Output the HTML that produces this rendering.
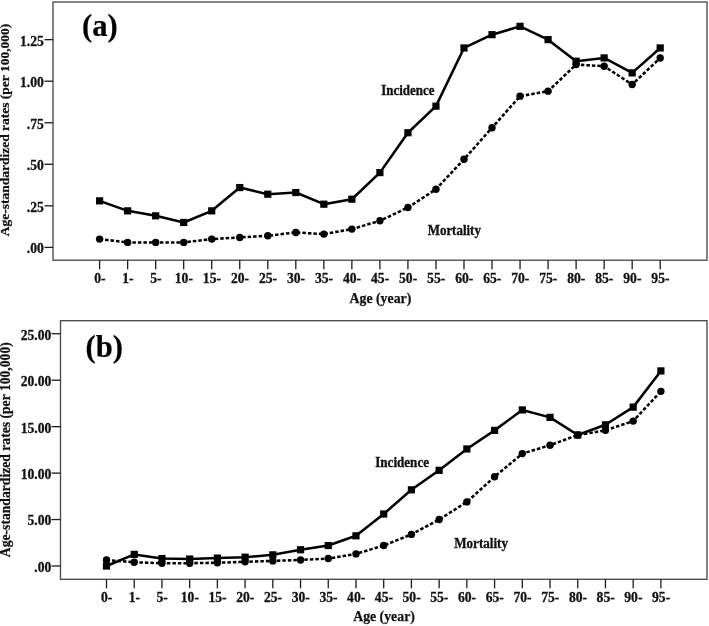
<!DOCTYPE html>
<html><head><meta charset="utf-8"><title>Figure</title>
<style>
html,body{margin:0;padding:0;background:#fff;}
svg{display:block;will-change:transform;}
text{font-family:"Liberation Serif",serif;font-weight:bold;fill:#111;}
.tk{font-size:13.6px;stroke:#111;stroke-width:0.3px;}
.lb{font-size:14.8px;stroke:#111;stroke-width:0.35px;}
.ax{font-size:13.8px;stroke:#111;stroke-width:0.25px;}
.tag{font-size:30.6px;fill:#000;stroke:#000;stroke-width:0.2px;}
</style></head><body>
<svg width="709" height="626" viewBox="0 0 709 626">
<rect width="709" height="626" fill="#fff"/>
<rect x="53.0" y="2.0" width="654.00" height="258.20" fill="none" stroke="#444" stroke-width="1.3"/>
<line x1="44.50" y1="247.40" x2="53.0" y2="247.40" stroke="#1a1a1a" stroke-width="1.3"/>
<text x="43.80" y="253.30" text-anchor="end" class="tk">.00</text>
<line x1="44.50" y1="205.85" x2="53.0" y2="205.85" stroke="#1a1a1a" stroke-width="1.3"/>
<text x="43.80" y="211.75" text-anchor="end" class="tk">.25</text>
<line x1="44.50" y1="164.30" x2="53.0" y2="164.30" stroke="#1a1a1a" stroke-width="1.3"/>
<text x="43.80" y="170.20" text-anchor="end" class="tk">.50</text>
<line x1="44.50" y1="122.75" x2="53.0" y2="122.75" stroke="#1a1a1a" stroke-width="1.3"/>
<text x="43.80" y="128.65" text-anchor="end" class="tk">.75</text>
<line x1="44.50" y1="81.20" x2="53.0" y2="81.20" stroke="#1a1a1a" stroke-width="1.3"/>
<text x="43.80" y="87.10" text-anchor="end" class="tk">1.00</text>
<line x1="44.50" y1="39.65" x2="53.0" y2="39.65" stroke="#1a1a1a" stroke-width="1.3"/>
<text x="43.80" y="45.55" text-anchor="end" class="tk">1.25</text>
<line x1="99.60" y1="260.2" x2="99.60" y2="269.20" stroke="#1a1a1a" stroke-width="1.3"/>
<text x="99.80" y="283.3" text-anchor="middle" class="tk">0-</text>
<line x1="127.63" y1="260.2" x2="127.63" y2="269.20" stroke="#1a1a1a" stroke-width="1.3"/>
<text x="127.83" y="283.3" text-anchor="middle" class="tk">1-</text>
<line x1="155.66" y1="260.2" x2="155.66" y2="269.20" stroke="#1a1a1a" stroke-width="1.3"/>
<text x="155.86" y="283.3" text-anchor="middle" class="tk">5-</text>
<line x1="183.69" y1="260.2" x2="183.69" y2="269.20" stroke="#1a1a1a" stroke-width="1.3"/>
<text x="183.89" y="283.3" text-anchor="middle" class="tk">10-</text>
<line x1="211.72" y1="260.2" x2="211.72" y2="269.20" stroke="#1a1a1a" stroke-width="1.3"/>
<text x="211.92" y="283.3" text-anchor="middle" class="tk">15-</text>
<line x1="239.75" y1="260.2" x2="239.75" y2="269.20" stroke="#1a1a1a" stroke-width="1.3"/>
<text x="239.95" y="283.3" text-anchor="middle" class="tk">20-</text>
<line x1="267.78" y1="260.2" x2="267.78" y2="269.20" stroke="#1a1a1a" stroke-width="1.3"/>
<text x="267.98" y="283.3" text-anchor="middle" class="tk">25-</text>
<line x1="295.81" y1="260.2" x2="295.81" y2="269.20" stroke="#1a1a1a" stroke-width="1.3"/>
<text x="296.01" y="283.3" text-anchor="middle" class="tk">30-</text>
<line x1="323.84" y1="260.2" x2="323.84" y2="269.20" stroke="#1a1a1a" stroke-width="1.3"/>
<text x="324.04" y="283.3" text-anchor="middle" class="tk">35-</text>
<line x1="351.87" y1="260.2" x2="351.87" y2="269.20" stroke="#1a1a1a" stroke-width="1.3"/>
<text x="352.07" y="283.3" text-anchor="middle" class="tk">40-</text>
<line x1="379.90" y1="260.2" x2="379.90" y2="269.20" stroke="#1a1a1a" stroke-width="1.3"/>
<text x="380.10" y="283.3" text-anchor="middle" class="tk">45-</text>
<line x1="407.93" y1="260.2" x2="407.93" y2="269.20" stroke="#1a1a1a" stroke-width="1.3"/>
<text x="408.13" y="283.3" text-anchor="middle" class="tk">50-</text>
<line x1="435.96" y1="260.2" x2="435.96" y2="269.20" stroke="#1a1a1a" stroke-width="1.3"/>
<text x="436.16" y="283.3" text-anchor="middle" class="tk">55-</text>
<line x1="463.99" y1="260.2" x2="463.99" y2="269.20" stroke="#1a1a1a" stroke-width="1.3"/>
<text x="464.19" y="283.3" text-anchor="middle" class="tk">60-</text>
<line x1="492.02" y1="260.2" x2="492.02" y2="269.20" stroke="#1a1a1a" stroke-width="1.3"/>
<text x="492.22" y="283.3" text-anchor="middle" class="tk">65-</text>
<line x1="520.05" y1="260.2" x2="520.05" y2="269.20" stroke="#1a1a1a" stroke-width="1.3"/>
<text x="520.25" y="283.3" text-anchor="middle" class="tk">70-</text>
<line x1="548.08" y1="260.2" x2="548.08" y2="269.20" stroke="#1a1a1a" stroke-width="1.3"/>
<text x="548.28" y="283.3" text-anchor="middle" class="tk">75-</text>
<line x1="576.11" y1="260.2" x2="576.11" y2="269.20" stroke="#1a1a1a" stroke-width="1.3"/>
<text x="576.31" y="283.3" text-anchor="middle" class="tk">80-</text>
<line x1="604.14" y1="260.2" x2="604.14" y2="269.20" stroke="#1a1a1a" stroke-width="1.3"/>
<text x="604.34" y="283.3" text-anchor="middle" class="tk">85-</text>
<line x1="632.17" y1="260.2" x2="632.17" y2="269.20" stroke="#1a1a1a" stroke-width="1.3"/>
<text x="632.37" y="283.3" text-anchor="middle" class="tk">90-</text>
<line x1="660.20" y1="260.2" x2="660.20" y2="269.20" stroke="#1a1a1a" stroke-width="1.3"/>
<text x="660.40" y="283.3" text-anchor="middle" class="tk">95-</text>
<polyline points="99.60,239.09 127.63,242.41 155.66,242.41 183.69,242.41 211.72,239.09 239.75,237.43 267.78,235.77 295.81,232.44 323.84,234.10 351.87,229.12 379.90,220.81 407.93,207.51 435.96,189.23 463.99,159.31 492.02,127.74 520.05,96.16 548.08,91.17 576.11,64.58 604.14,66.24 632.17,84.52 660.20,57.93" fill="none" stroke="#000" stroke-width="2.55" stroke-dasharray="3.5 2.0"/>
<polyline points="99.60,200.86 127.63,210.84 155.66,215.82 183.69,222.47 211.72,210.84 239.75,187.57 267.78,194.22 295.81,192.55 323.84,204.19 351.87,199.20 379.90,172.61 407.93,132.72 435.96,106.13 463.99,47.96 492.02,34.66 520.05,26.35 548.08,39.65 576.11,61.26 604.14,57.93 632.17,72.89 660.20,47.96" fill="none" stroke="#000" stroke-width="2.55" stroke-linejoin="round"/>
<circle cx="99.60" cy="239.09" r="3.7" fill="#000"/>
<circle cx="127.63" cy="242.41" r="3.7" fill="#000"/>
<circle cx="155.66" cy="242.41" r="3.7" fill="#000"/>
<circle cx="183.69" cy="242.41" r="3.7" fill="#000"/>
<circle cx="211.72" cy="239.09" r="3.7" fill="#000"/>
<circle cx="239.75" cy="237.43" r="3.7" fill="#000"/>
<circle cx="267.78" cy="235.77" r="3.7" fill="#000"/>
<circle cx="295.81" cy="232.44" r="3.7" fill="#000"/>
<circle cx="323.84" cy="234.10" r="3.7" fill="#000"/>
<circle cx="351.87" cy="229.12" r="3.7" fill="#000"/>
<circle cx="379.90" cy="220.81" r="3.7" fill="#000"/>
<circle cx="407.93" cy="207.51" r="3.7" fill="#000"/>
<circle cx="435.96" cy="189.23" r="3.7" fill="#000"/>
<circle cx="463.99" cy="159.31" r="3.7" fill="#000"/>
<circle cx="492.02" cy="127.74" r="3.7" fill="#000"/>
<circle cx="520.05" cy="96.16" r="3.7" fill="#000"/>
<circle cx="548.08" cy="91.17" r="3.7" fill="#000"/>
<circle cx="576.11" cy="64.58" r="3.7" fill="#000"/>
<circle cx="604.14" cy="66.24" r="3.7" fill="#000"/>
<circle cx="632.17" cy="84.52" r="3.7" fill="#000"/>
<circle cx="660.20" cy="57.93" r="3.7" fill="#000"/>
<rect x="96.00" y="197.26" width="7.2" height="7.2" fill="#000"/>
<rect x="124.03" y="207.24" width="7.2" height="7.2" fill="#000"/>
<rect x="152.06" y="212.22" width="7.2" height="7.2" fill="#000"/>
<rect x="180.09" y="218.87" width="7.2" height="7.2" fill="#000"/>
<rect x="208.12" y="207.24" width="7.2" height="7.2" fill="#000"/>
<rect x="236.15" y="183.97" width="7.2" height="7.2" fill="#000"/>
<rect x="264.18" y="190.62" width="7.2" height="7.2" fill="#000"/>
<rect x="292.21" y="188.95" width="7.2" height="7.2" fill="#000"/>
<rect x="320.24" y="200.59" width="7.2" height="7.2" fill="#000"/>
<rect x="348.27" y="195.60" width="7.2" height="7.2" fill="#000"/>
<rect x="376.30" y="169.01" width="7.2" height="7.2" fill="#000"/>
<rect x="404.33" y="129.12" width="7.2" height="7.2" fill="#000"/>
<rect x="432.36" y="102.53" width="7.2" height="7.2" fill="#000"/>
<rect x="460.39" y="44.36" width="7.2" height="7.2" fill="#000"/>
<rect x="488.42" y="31.06" width="7.2" height="7.2" fill="#000"/>
<rect x="516.45" y="22.75" width="7.2" height="7.2" fill="#000"/>
<rect x="544.48" y="36.05" width="7.2" height="7.2" fill="#000"/>
<rect x="572.51" y="57.66" width="7.2" height="7.2" fill="#000"/>
<rect x="600.54" y="54.33" width="7.2" height="7.2" fill="#000"/>
<rect x="628.57" y="69.29" width="7.2" height="7.2" fill="#000"/>
<rect x="656.60" y="44.36" width="7.2" height="7.2" fill="#000"/>
<text x="82.0" y="35.9" class="tag">(a)</text>
<text transform="translate(381.2,95.4) scale(0.875,1)" class="lb">Incidence</text>
<text transform="translate(427.7,234.7) scale(0.875,1)" class="lb">Mortality</text>
<text x="349.6" y="302.5" class="ax">Age (year)</text>
<text transform="translate(9.4,130) rotate(-90)" text-anchor="middle" class="ax" style="font-size:13.5px">Age-standardized rates (per 100,000)</text>
<rect x="60.5" y="320.7" width="646.50" height="258.60" fill="none" stroke="#444" stroke-width="1.3"/>
<line x1="51.50" y1="566.00" x2="60.5" y2="566.00" stroke="#1a1a1a" stroke-width="1.3"/>
<text x="51.30" y="571.90" text-anchor="end" class="tk">.00</text>
<line x1="51.50" y1="519.55" x2="60.5" y2="519.55" stroke="#1a1a1a" stroke-width="1.3"/>
<text x="51.30" y="525.45" text-anchor="end" class="tk">5.00</text>
<line x1="51.50" y1="473.10" x2="60.5" y2="473.10" stroke="#1a1a1a" stroke-width="1.3"/>
<text x="51.30" y="479.00" text-anchor="end" class="tk">10.00</text>
<line x1="51.50" y1="426.65" x2="60.5" y2="426.65" stroke="#1a1a1a" stroke-width="1.3"/>
<text x="51.30" y="432.55" text-anchor="end" class="tk">15.00</text>
<line x1="51.50" y1="380.20" x2="60.5" y2="380.20" stroke="#1a1a1a" stroke-width="1.3"/>
<text x="51.30" y="386.10" text-anchor="end" class="tk">20.00</text>
<line x1="51.50" y1="333.75" x2="60.5" y2="333.75" stroke="#1a1a1a" stroke-width="1.3"/>
<text x="51.30" y="339.65" text-anchor="end" class="tk">25.00</text>
<line x1="106.50" y1="579.3" x2="106.50" y2="588.30" stroke="#1a1a1a" stroke-width="1.3"/>
<text x="106.70" y="602.0" text-anchor="middle" class="tk">0-</text>
<line x1="134.22" y1="579.3" x2="134.22" y2="588.30" stroke="#1a1a1a" stroke-width="1.3"/>
<text x="134.42" y="602.0" text-anchor="middle" class="tk">1-</text>
<line x1="161.94" y1="579.3" x2="161.94" y2="588.30" stroke="#1a1a1a" stroke-width="1.3"/>
<text x="162.14" y="602.0" text-anchor="middle" class="tk">5-</text>
<line x1="189.66" y1="579.3" x2="189.66" y2="588.30" stroke="#1a1a1a" stroke-width="1.3"/>
<text x="189.86" y="602.0" text-anchor="middle" class="tk">10-</text>
<line x1="217.38" y1="579.3" x2="217.38" y2="588.30" stroke="#1a1a1a" stroke-width="1.3"/>
<text x="217.58" y="602.0" text-anchor="middle" class="tk">15-</text>
<line x1="245.10" y1="579.3" x2="245.10" y2="588.30" stroke="#1a1a1a" stroke-width="1.3"/>
<text x="245.30" y="602.0" text-anchor="middle" class="tk">20-</text>
<line x1="272.82" y1="579.3" x2="272.82" y2="588.30" stroke="#1a1a1a" stroke-width="1.3"/>
<text x="273.02" y="602.0" text-anchor="middle" class="tk">25-</text>
<line x1="300.54" y1="579.3" x2="300.54" y2="588.30" stroke="#1a1a1a" stroke-width="1.3"/>
<text x="300.74" y="602.0" text-anchor="middle" class="tk">30-</text>
<line x1="328.26" y1="579.3" x2="328.26" y2="588.30" stroke="#1a1a1a" stroke-width="1.3"/>
<text x="328.46" y="602.0" text-anchor="middle" class="tk">35-</text>
<line x1="355.98" y1="579.3" x2="355.98" y2="588.30" stroke="#1a1a1a" stroke-width="1.3"/>
<text x="356.18" y="602.0" text-anchor="middle" class="tk">40-</text>
<line x1="383.70" y1="579.3" x2="383.70" y2="588.30" stroke="#1a1a1a" stroke-width="1.3"/>
<text x="383.90" y="602.0" text-anchor="middle" class="tk">45-</text>
<line x1="411.42" y1="579.3" x2="411.42" y2="588.30" stroke="#1a1a1a" stroke-width="1.3"/>
<text x="411.62" y="602.0" text-anchor="middle" class="tk">50-</text>
<line x1="439.14" y1="579.3" x2="439.14" y2="588.30" stroke="#1a1a1a" stroke-width="1.3"/>
<text x="439.34" y="602.0" text-anchor="middle" class="tk">55-</text>
<line x1="466.86" y1="579.3" x2="466.86" y2="588.30" stroke="#1a1a1a" stroke-width="1.3"/>
<text x="467.06" y="602.0" text-anchor="middle" class="tk">60-</text>
<line x1="494.58" y1="579.3" x2="494.58" y2="588.30" stroke="#1a1a1a" stroke-width="1.3"/>
<text x="494.78" y="602.0" text-anchor="middle" class="tk">65-</text>
<line x1="522.30" y1="579.3" x2="522.30" y2="588.30" stroke="#1a1a1a" stroke-width="1.3"/>
<text x="522.50" y="602.0" text-anchor="middle" class="tk">70-</text>
<line x1="550.02" y1="579.3" x2="550.02" y2="588.30" stroke="#1a1a1a" stroke-width="1.3"/>
<text x="550.22" y="602.0" text-anchor="middle" class="tk">75-</text>
<line x1="577.74" y1="579.3" x2="577.74" y2="588.30" stroke="#1a1a1a" stroke-width="1.3"/>
<text x="577.94" y="602.0" text-anchor="middle" class="tk">80-</text>
<line x1="605.46" y1="579.3" x2="605.46" y2="588.30" stroke="#1a1a1a" stroke-width="1.3"/>
<text x="605.66" y="602.0" text-anchor="middle" class="tk">85-</text>
<line x1="633.18" y1="579.3" x2="633.18" y2="588.30" stroke="#1a1a1a" stroke-width="1.3"/>
<text x="633.38" y="602.0" text-anchor="middle" class="tk">90-</text>
<line x1="660.90" y1="579.3" x2="660.90" y2="588.30" stroke="#1a1a1a" stroke-width="1.3"/>
<text x="661.10" y="602.0" text-anchor="middle" class="tk">95-</text>
<polyline points="106.50,559.96 134.22,562.28 161.94,563.21 189.66,563.21 217.38,562.75 245.10,561.82 272.82,560.89 300.54,559.96 328.26,558.57 355.98,553.92 383.70,545.56 411.42,534.41 439.14,519.55 466.86,501.90 494.58,476.82 522.30,453.59 550.02,445.23 577.74,435.01 605.46,430.37 633.18,421.08 660.90,391.35" fill="none" stroke="#000" stroke-width="2.55" stroke-dasharray="3.5 2.0"/>
<polyline points="106.50,566.00 134.22,554.39 161.94,558.57 189.66,559.03 217.38,558.10 245.10,557.17 272.82,554.85 300.54,549.74 328.26,545.56 355.98,535.81 383.70,513.98 411.42,489.82 439.14,470.31 466.86,448.95 494.58,430.37 522.30,409.93 550.02,417.36 577.74,435.01 605.46,424.79 633.18,407.14 660.90,370.91" fill="none" stroke="#000" stroke-width="2.55" stroke-linejoin="round"/>
<circle cx="106.50" cy="559.96" r="3.7" fill="#000"/>
<circle cx="134.22" cy="562.28" r="3.7" fill="#000"/>
<circle cx="161.94" cy="563.21" r="3.7" fill="#000"/>
<circle cx="189.66" cy="563.21" r="3.7" fill="#000"/>
<circle cx="217.38" cy="562.75" r="3.7" fill="#000"/>
<circle cx="245.10" cy="561.82" r="3.7" fill="#000"/>
<circle cx="272.82" cy="560.89" r="3.7" fill="#000"/>
<circle cx="300.54" cy="559.96" r="3.7" fill="#000"/>
<circle cx="328.26" cy="558.57" r="3.7" fill="#000"/>
<circle cx="355.98" cy="553.92" r="3.7" fill="#000"/>
<circle cx="383.70" cy="545.56" r="3.7" fill="#000"/>
<circle cx="411.42" cy="534.41" r="3.7" fill="#000"/>
<circle cx="439.14" cy="519.55" r="3.7" fill="#000"/>
<circle cx="466.86" cy="501.90" r="3.7" fill="#000"/>
<circle cx="494.58" cy="476.82" r="3.7" fill="#000"/>
<circle cx="522.30" cy="453.59" r="3.7" fill="#000"/>
<circle cx="550.02" cy="445.23" r="3.7" fill="#000"/>
<circle cx="577.74" cy="435.01" r="3.7" fill="#000"/>
<circle cx="605.46" cy="430.37" r="3.7" fill="#000"/>
<circle cx="633.18" cy="421.08" r="3.7" fill="#000"/>
<circle cx="660.90" cy="391.35" r="3.7" fill="#000"/>
<rect x="102.90" y="562.40" width="7.2" height="7.2" fill="#000"/>
<rect x="130.62" y="550.79" width="7.2" height="7.2" fill="#000"/>
<rect x="158.34" y="554.97" width="7.2" height="7.2" fill="#000"/>
<rect x="186.06" y="555.43" width="7.2" height="7.2" fill="#000"/>
<rect x="213.78" y="554.50" width="7.2" height="7.2" fill="#000"/>
<rect x="241.50" y="553.57" width="7.2" height="7.2" fill="#000"/>
<rect x="269.22" y="551.25" width="7.2" height="7.2" fill="#000"/>
<rect x="296.94" y="546.14" width="7.2" height="7.2" fill="#000"/>
<rect x="324.66" y="541.96" width="7.2" height="7.2" fill="#000"/>
<rect x="352.38" y="532.21" width="7.2" height="7.2" fill="#000"/>
<rect x="380.10" y="510.38" width="7.2" height="7.2" fill="#000"/>
<rect x="407.82" y="486.22" width="7.2" height="7.2" fill="#000"/>
<rect x="435.54" y="466.71" width="7.2" height="7.2" fill="#000"/>
<rect x="463.26" y="445.35" width="7.2" height="7.2" fill="#000"/>
<rect x="490.98" y="426.77" width="7.2" height="7.2" fill="#000"/>
<rect x="518.70" y="406.33" width="7.2" height="7.2" fill="#000"/>
<rect x="546.42" y="413.76" width="7.2" height="7.2" fill="#000"/>
<rect x="574.14" y="431.41" width="7.2" height="7.2" fill="#000"/>
<rect x="601.86" y="421.19" width="7.2" height="7.2" fill="#000"/>
<rect x="629.58" y="403.54" width="7.2" height="7.2" fill="#000"/>
<rect x="657.30" y="367.31" width="7.2" height="7.2" fill="#000"/>
<text x="85.5" y="357.0" class="tag">(b)</text>
<text transform="translate(375.2,467.4) scale(0.885,1)" class="lb">Incidence</text>
<text transform="translate(454.2,548.4) scale(0.885,1)" class="lb">Mortality</text>
<text x="353.2" y="620.6" class="ax">Age (year)</text>
<text transform="translate(10.1,449.7) rotate(-90)" text-anchor="middle" class="ax" style="font-size:13.65px">Age-standardized rates (per 100,000)</text>
</svg>
</body></html>
